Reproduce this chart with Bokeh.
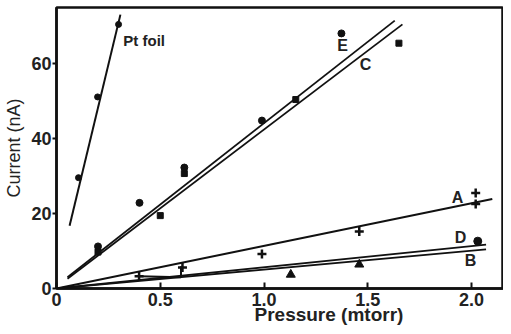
from bokeh.plotting import figure
from bokeh.models import Range1d, FixedTicker, Label, Title
from bokeh.embed import file_html
from bokeh.resources import INLINE

# ---- data ----
x_ticks = [0, 0.5, 1.0, 1.5, 2.0]
x_tick_labels = ["0", "0.5", "1.0", "1.5", "2.0"]
y_ticks = [0, 20, 40, 60]
y_tick_labels = ["0", "20", "40", "60"]

pt_x = [0.106, 0.198, 0.299]
pt_y = [29.5, 51.0, 70.3]
pt_fit_x = [0.063, 0.308]
pt_fit_y = [16.7, 72.9]

e_x = [0.20, 0.40, 0.616, 0.99, 1.373]
e_y = [11.2, 22.8, 32.2, 44.7, 67.9]
e_fit_x = [0.053, 1.63]
e_fit_y = [3.0, 71.3]

c_x = [0.20, 0.50, 0.616, 1.153, 1.65]
c_y = [9.7, 19.4, 30.6, 50.3, 65.3]
c_fit_x = [0.053, 1.667]
c_fit_y = [2.6, 70.3]

a_x = [0.398, 0.607, 0.99, 1.459, 2.02, 2.02]
a_y = [3.25, 5.6, 9.2, 15.2, 25.4, 22.5]
a_fit_x = [0.0, 2.10]
a_fit_y = [0.0, 23.8]
a_bracket_x = [0.398, 0.60, 0.60]
a_bracket_y = [3.25, 3.0, 5.9]

d_x = [2.03]
d_y = [12.6]
d_fit_x = [0.0, 2.07]
d_fit_y = [0.0, 11.7]

b_x = [1.129, 1.459]
b_y = [3.7, 6.4]
b_fit_x = [0.0, 2.07]
b_fit_y = [0.0, 10.4]

FONT = "Liberation Sans"
INK = "#111111"
TXT = "#222222"

p = figure(width=503, height=326, output_backend="svg", toolbar_location=None,
           x_range=Range1d(0, 2.154), y_range=Range1d(0, 74.8),
           min_border_left=56, min_border_right=0, min_border_top=7,
           min_border_bottom=38)
p.grid.visible = False
p.background_fill_color = "white"
p.border_fill_color = "white"
p.outline_line_color = INK
p.outline_line_width = 2.5

# axes
p.xaxis.ticker = FixedTicker(ticks=x_ticks)
p.xaxis.major_label_overrides = dict(zip(x_ticks, x_tick_labels))
p.yaxis.ticker = FixedTicker(ticks=y_ticks)
p.yaxis.major_label_overrides = dict(zip(y_ticks, y_tick_labels))
for ax in (p.xaxis, p.yaxis):
    ax.axis_line_width = 2.5
    ax.axis_line_color = INK
    ax.major_tick_line_width = 2
    ax.major_tick_line_color = INK
    ax.minor_tick_line_color = None
    ax.major_label_text_font = FONT
    ax.major_label_text_font_style = "bold"
    ax.major_label_text_font_size = "18px"
    ax.major_label_text_color = TXT
p.xaxis.major_tick_in = 6
p.xaxis.major_tick_out = 0
p.xaxis.major_label_standoff = 4
p.yaxis.major_tick_in = 0
p.yaxis.major_tick_out = 4
p.yaxis.major_label_standoff = 1

p.yaxis.axis_label = "Current (nA)"
p.yaxis.axis_label_text_font = FONT
p.yaxis.axis_label_text_font_style = "normal"
p.yaxis.axis_label_text_font_size = "18px"
p.yaxis.axis_label_text_color = TXT
p.yaxis.axis_label_standoff = 4

xt = Title(text="Pressure (mtorr)", align="left", offset=198, standoff=-14,
           text_font=FONT, text_font_style="bold", text_font_size="19px",
           text_color=TXT)
p.add_layout(xt, "below")

# fit lines
p.line(pt_fit_x, pt_fit_y, line_color=INK, line_width=2)
p.line(e_fit_x, e_fit_y, line_color=INK, line_width=1.8)
p.line(c_fit_x, c_fit_y, line_color=INK, line_width=1.8)
p.line(a_fit_x, a_fit_y, line_color=INK, line_width=2)
p.line(a_bracket_x, a_bracket_y, line_color=INK, line_width=2)
p.line(d_fit_x, d_fit_y, line_color=INK, line_width=1.8)
p.line(b_fit_x, b_fit_y, line_color=INK, line_width=1.8)

# data points
p.scatter(pt_x, pt_y, marker="circle", size=6, color=INK)
p.scatter(e_x, e_y, marker="circle", size=7, color=INK)
p.scatter(c_x, c_y, marker="square", size=6, color=INK)
p.scatter(a_x, a_y, marker="cross", size=9, line_width=2.5, color=INK)
p.scatter(d_x, d_y, marker="circle", size=8, color=INK)
p.scatter(b_x, b_y, marker="triangle", size=9, color=INK)

# series labels
def lab(x, y, t, size="16px", align="center"):
    p.add_layout(Label(x=x, y=y, text=t, text_font=FONT, text_font_style="bold",
                       text_font_size=size, text_color=TXT,
                       text_align=align, text_baseline="middle"))

lab(0.322, 66.0, "Pt foil", size="15px", align="left")
lab(1.378, 64.6, "E")
lab(1.489, 59.7, "C")
lab(1.933, 24.1, "A")
lab(1.947, 13.5, "D")
lab(1.995, 7.5, "B")

open("out.html", "w").write(file_html(p, INLINE))
